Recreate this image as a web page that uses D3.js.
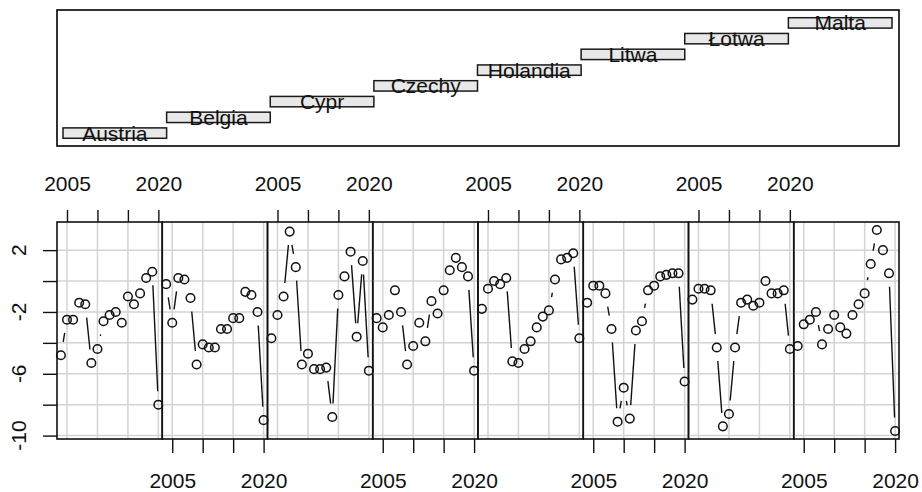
<!DOCTYPE html>
<html>
<head>
<meta charset="utf-8">
<script src="https://cdn.jsdelivr.net/npm/d3@7"></script>
<style>
  html, body { margin: 0; padding: 0; background: #fff; }
  svg { display: block; font-family: "Liberation Sans", Arial, Helvetica, sans-serif; }
</style>
</head>
<body>
<svg id="chart" width="922" height="492"></svg>
<script>
// Government balance (% of GDP), 2004–2020, conditioned on country
const countries = ["Austria", "Belgia", "Cypr", "Czechy", "Holandia", "Litwa", "Łotwa", "Malta"];
const years = [2004, 2005, 2006, 2007, 2008, 2009, 2010, 2011, 2012, 2013, 2014, 2015, 2016, 2017, 2018, 2019, 2020];

const austria  = [-4.8, -2.5, -2.5, -1.4, -1.5, -5.3, -4.4, -2.6, -2.2, -2.0, -2.7, -1.0, -1.5, -0.8, 0.2, 0.6, -8.0];
const belgia   = [-0.2, -2.7, 0.2, 0.1, -1.1, -5.4, -4.1, -4.3, -4.3, -3.1, -3.1, -2.4, -2.4, -0.7, -0.9, -2.0, -9.0];
const cypr     = [-3.7, -2.2, -1.0, 3.2, 0.9, -5.4, -4.7, -5.7, -5.7, -5.6, -8.8, -0.9, 0.3, 1.9, -3.6, 1.3, -5.8];
const czechy   = [-2.4, -3.0, -2.2, -0.6, -2.0, -5.4, -4.2, -2.7, -3.9, -1.3, -2.1, -0.6, 0.7, 1.5, 0.9, 0.3, -5.8];
const holandia = [-1.8, -0.5, 0.0, -0.2, 0.2, -5.2, -5.3, -4.4, -3.9, -3.0, -2.3, -1.9, 0.1, 1.4, 1.5, 1.8, -3.7];
const litwa    = [-1.4, -0.3, -0.3, -0.8, -3.1, -9.1, -6.9, -8.9, -3.2, -2.6, -0.6, -0.3, 0.3, 0.4, 0.5, 0.5, -6.5];
const lotwa    = [-1.2, -0.5, -0.5, -0.6, -4.3, -9.4, -8.6, -4.3, -1.4, -1.2, -1.6, -1.4, 0.0, -0.8, -0.8, -0.6, -4.4];
const malta    = [-4.2, -2.8, -2.5, -2.0, -4.1, -3.1, -2.2, -3.0, -3.4, -2.2, -1.5, -0.8, 1.1, 3.3, 2.0, 0.5, -9.7];

const xTicks = [2005, 2010, 2015, 2020];
const xTickLabels = ["2005", "", "", "2020"];
const yTicks = [-10, -8, -6, -4, -2, 0, 2];
const yTickLabels = ["-10", "", "-6", "", "-2", "", "2"];

const series = [austria, belgia, cypr, czechy, holandia, litwa, lotwa, malta];

const svg = d3.select("#chart");
const FONT = 21;

// ---- layout ----
const left = 57, right = 899;
const givenTop = 10, givenBottom = 146;
const panelTop = 222, panelBottom = 439;
const nPanels = countries.length;
const panelW = (right - left) / nPanels;

// R-style 4% range extension
function extend(ext) {
  const d = (ext[1] - ext[0]) * 0.04;
  return [ext[0] - d, ext[1] + d];
}

// ---- given (country) panel ----
const gx = d3.scaleLinear().domain([0.5, nPanels + 0.5]).range([63, 892]);
const gy = d3.scaleLinear().domain(extend([0.5, nPanels + 0.5])).range([givenBottom, givenTop]);
const given = svg.append("g");
given.append("rect")
  .attr("x", left).attr("y", givenTop)
  .attr("width", right - left).attr("height", givenBottom - givenTop)
  .attr("fill", "none").attr("stroke", "#000").attr("stroke-width", 1.6);

const barHalf = 0.33;
given.selectAll("rect.bar").data(countries).join("rect")
  .attr("class", "bar")
  .attr("x", (d, i) => gx(i + 0.5))
  .attr("width", (d, i) => gx(i + 1.5) - gx(i + 0.5))
  .attr("y", (d, i) => gy(i + 1 + barHalf))
  .attr("height", (d, i) => gy(i + 1 - barHalf) - gy(i + 1 + barHalf))
  .attr("fill", "#e8e8e8").attr("stroke", "#1a1a1a").attr("stroke-width", 1.5);

given.selectAll("text.lab").data(countries).join("text")
  .attr("class", "lab")
  .attr("x", (d, i) => gx(i + 1))
  .attr("y", (d, i) => gy(i + 1))
  .attr("dy", "0.36em")
  .attr("text-anchor", "middle")
  .attr("font-size", FONT)
  .attr("fill", "#111")
  .text(d => d);

// ---- conditioning panels ----
const allVals = series.flat();
const y = d3.scaleLinear().domain(extend(d3.extent(allVals))).range([panelBottom, panelTop]);
const GAP = 13.5; // gap left around points for point+line style

countries.forEach((name, p) => {
  const x0 = left + p * panelW;
  const x = d3.scaleLinear().domain(extend(d3.extent(years))).range([x0, x0 + panelW]);
  const g = svg.append("g");

  // grid
  g.selectAll("line.vg").data(xTicks).join("line")
    .attr("x1", d => x(d)).attr("x2", d => x(d))
    .attr("y1", panelTop).attr("y2", panelBottom)
    .attr("stroke", "#d3d3d3").attr("stroke-width", 1.5);
  g.selectAll("line.hg").data(yTicks).join("line")
    .attr("x1", x0).attr("x2", x0 + panelW)
    .attr("y1", d => y(d)).attr("y2", d => y(d))
    .attr("stroke", "#d3d3d3").attr("stroke-width", 1.5);

  // points and gapped connecting segments
  const vals = series[p];
  const pts = years.map((yr, i) => [x(yr), y(vals[i])]);
  const segs = [];
  for (let i = 0; i < pts.length - 1; i++) {
    const [ax, ay] = pts[i], [bx, by] = pts[i + 1];
    const dx = bx - ax, dy = by - ay, dist = Math.hypot(dx, dy);
    if (dist > 2 * GAP) {
      const ux = dx / dist, uy = dy / dist;
      segs.push([ax + ux * GAP, ay + uy * GAP, bx - ux * GAP, by - uy * GAP]);
    }
  }
  g.selectAll("line.seg").data(segs).join("line")
    .attr("x1", d => d[0]).attr("y1", d => d[1])
    .attr("x2", d => d[2]).attr("y2", d => d[3])
    .attr("stroke", "#111").attr("stroke-width", 1.4);
  g.selectAll("circle").data(pts).join("circle")
    .attr("cx", d => d[0]).attr("cy", d => d[1]).attr("r", 4.3)
    .attr("fill", "none").attr("stroke", "#111").attr("stroke-width", 1.5);

  // frame
  g.append("rect")
    .attr("x", x0).attr("y", panelTop)
    .attr("width", panelW).attr("height", panelBottom - panelTop)
    .attr("fill", "none").attr("stroke", "#111").attr("stroke-width", 1.6);

  // alternating x axes: top for odd panels, bottom for even
  const top = p % 2 === 0;
  const axis = (top ? d3.axisTop(x) : d3.axisBottom(x))
    .tickValues(xTicks)
    .tickSize(top ? 12 : 14)
    .tickFormat((d, i) => xTickLabels[i]);
  const ag = g.append("g")
    .attr("transform", `translate(0,${top ? panelTop : panelBottom})`)
    .call(axis);
  ag.select(".domain").remove();
  ag.selectAll(".tick line").attr("stroke", "#111").attr("stroke-width", 1.4);
  ag.selectAll(".tick text")
    .attr("font-size", FONT).attr("font-family", null).attr("fill", "#111")
    .attr("y", top ? -31 : 49).attr("dy", "0");

  // y axis on the first panel
  if (p === 0) {
    const ya = d3.axisLeft(y).tickValues(yTicks).tickSize(14).tickFormat(() => "");
    const yg = g.append("g").attr("transform", `translate(${x0},0)`).call(ya);
    yg.select(".domain").remove();
    yg.selectAll(".tick line").attr("stroke", "#111").attr("stroke-width", 1.4);
    g.selectAll("text.ylab").data(yTicks).join("text")
      .attr("class", "ylab")
      .attr("transform", d => `translate(25.5,${y(d)}) rotate(-90)`)
      .attr("text-anchor", "middle")
      .attr("font-size", FONT).attr("fill", "#111")
      .text((d, i) => yTickLabels[i]);
  }
});
</script>
</body>
</html>
